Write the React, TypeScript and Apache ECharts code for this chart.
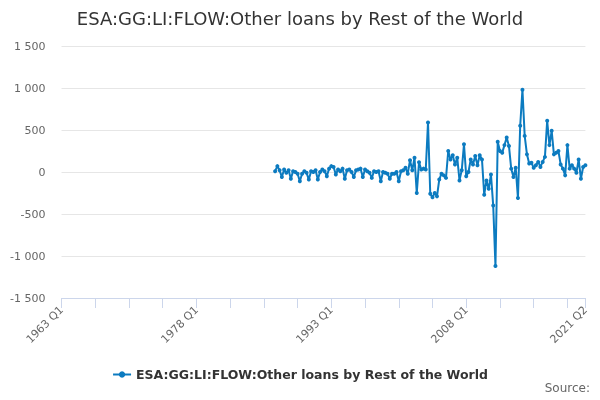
import React, { useEffect, useRef } from "react";
import * as echarts from "echarts";

const TITLE = "ESA:GG:LI:FLOW:Other loans by Rest of the World";
const SERIES_NAME = "ESA:GG:LI:FLOW:Other loans by Rest of the World";

const FIRST_YEAR = 1963;
const LAST_YEAR = 2021;
const LAST_QUARTER = 2;
const QUARTERS = ["Q1", "Q2", "Q3", "Q4"];

const categories: string[] = [];
for (let y = FIRST_YEAR; y <= LAST_YEAR; y++) {
  for (let q = 0; q < 4; q++) {
    if (y === LAST_YEAR && q >= LAST_QUARTER) break;
    categories.push(`${y} ${QUARTERS[q]}`);
  }
}

const DATA_START = "1986 Q4";
// quarterly values from 1986 Q4 to 2021 Q2
const values: number[] = [
  10,
  70, 20, -60, 30,
  -10, 20, -80, 10,
  0, -20, -110, -20,
  10, -10, -90, 10,
  0, 20, -90, 0,
  30, 10, -50, 40,
  70, 60, -30, 30,
  10, 40, -80, 20,
  30, 0, -60, 20,
  30, 40, -60, 30,
  10, -10, -70, 10,
  0, 10, -110, 0,
  -10, -20, -80, -20,
  -20, 0, -110, 10,
  20, 50, -20, 140,
  20, 170, -250, 115,
  30, 40, 30, 590,
  -260, -300, -250, -290,
  -90, -20, -40, -70,
  250, 150, 200, 90,
  170, -100, 20, 330,
  -50, 0, 150, 90,
  190, 80, 200, 150,
  -270, -100, -200, -30,
  -400, -1120, 360, 250,
  230, 320, 410, 310,
  40, -60, 50, -310,
  550, 980, 430, 210,
  100, 110, 50, 80,
  120, 60, 120, 180,
  610, 320, 490, 210,
  230, 250, 90, 40,
  -40, 320, 40, 80,
  40, -10, 150, -80,
  60, 80,
];

const Y_MIN = -1500;
const Y_MAX = 1500;
const Y_STEP = 500;
const LABEL_EVERY = 60;
const TICK_EVERY = 15;

function fmt(v: number): string {
  const s = Math.abs(v).toString().replace(/\B(?=(\d{3})+(?!\d))/g, " ");
  return (v < 0 ? "-" : "") + s;
}

export default function App() {
  const ref = useRef<HTMLDivElement>(null);
  useEffect(() => {
    if (!ref.current) return;
    const chart = echarts.init(ref.current, undefined, { renderer: "svg" });
    const startIdx = categories.indexOf(DATA_START);
    const seriesData = categories.map((_, i) => {
      const k = i - startIdx;
      return k >= 0 && k < values.length ? values[k] : null;
    });
    const lastIdx = categories.length - 1;
    chart.setOption({
      animation: false,
      textStyle: { fontFamily: "DejaVu Sans" },
      title: {
        text: TITLE,
        left: "center",
        top: 4,
        textStyle: { fontSize: 18, fontWeight: "normal", color: "#333333", fontFamily: "DejaVu Sans" },
      },
      legend: {
        data: [SERIES_NAME],
        left: "center",
        top: 363,
        itemWidth: 18,
        itemHeight: 8,
        itemGap: 6,
        textStyle: { fontSize: 12.5, fontWeight: "bold", color: "#333333", fontFamily: "DejaVu Sans" },
      },
      grid: { left: 61.5, right: 14.6, top: 46, bottom: 102, containLabel: false },
      xAxis: {
        type: "category",
        data: categories,
        boundaryGap: false,
        axisLine: { onZero: false, lineStyle: { color: "#ccd6eb" } },
        axisTick: {
          length: 10,
          lineStyle: { color: "#ccd6eb" },
          interval: (i: number) => i % TICK_EVERY === 0 || i === lastIdx,
        },
        axisLabel: {
          rotate: 45,
          color: "#666666",
          fontSize: 11,
          margin: 10,
          interval: (i: number) => i % LABEL_EVERY === 0 || i === lastIdx,
          fontFamily: "DejaVu Sans",
        },
        splitLine: { show: false },
      },
      yAxis: {
        type: "value",
        min: Y_MIN,
        max: Y_MAX,
        interval: Y_STEP,
        axisLine: { show: false },
        axisTick: { show: false },
        axisLabel: { color: "#666666", fontSize: 11, formatter: fmt, margin: 16, fontFamily: "DejaVu Sans" },
        splitLine: { lineStyle: { color: "#e6e6e6" } },
      },
      series: [
        {
          name: SERIES_NAME,
          type: "line",
          data: seriesData,
          showSymbol: true,
          showAllSymbol: true,
          symbol: "circle",
          symbolSize: 4,
          connectNulls: false,
          lineStyle: { width: 2, color: "#0c7bc0" },
          itemStyle: { color: "#0c7bc0" },
        },
      ],
      graphic: [
        {
          type: "text",
          right: 10,
          top: 382,
          style: { text: "Source:", fill: "#666666", fontSize: 12, fontFamily: "DejaVu Sans" },
        },
      ],
    });
    return () => chart.dispose();
  }, []);
  return <div ref={ref} style={{ position: "fixed", left: 0, top: 0, width: 600, height: 400 }} />;
}
